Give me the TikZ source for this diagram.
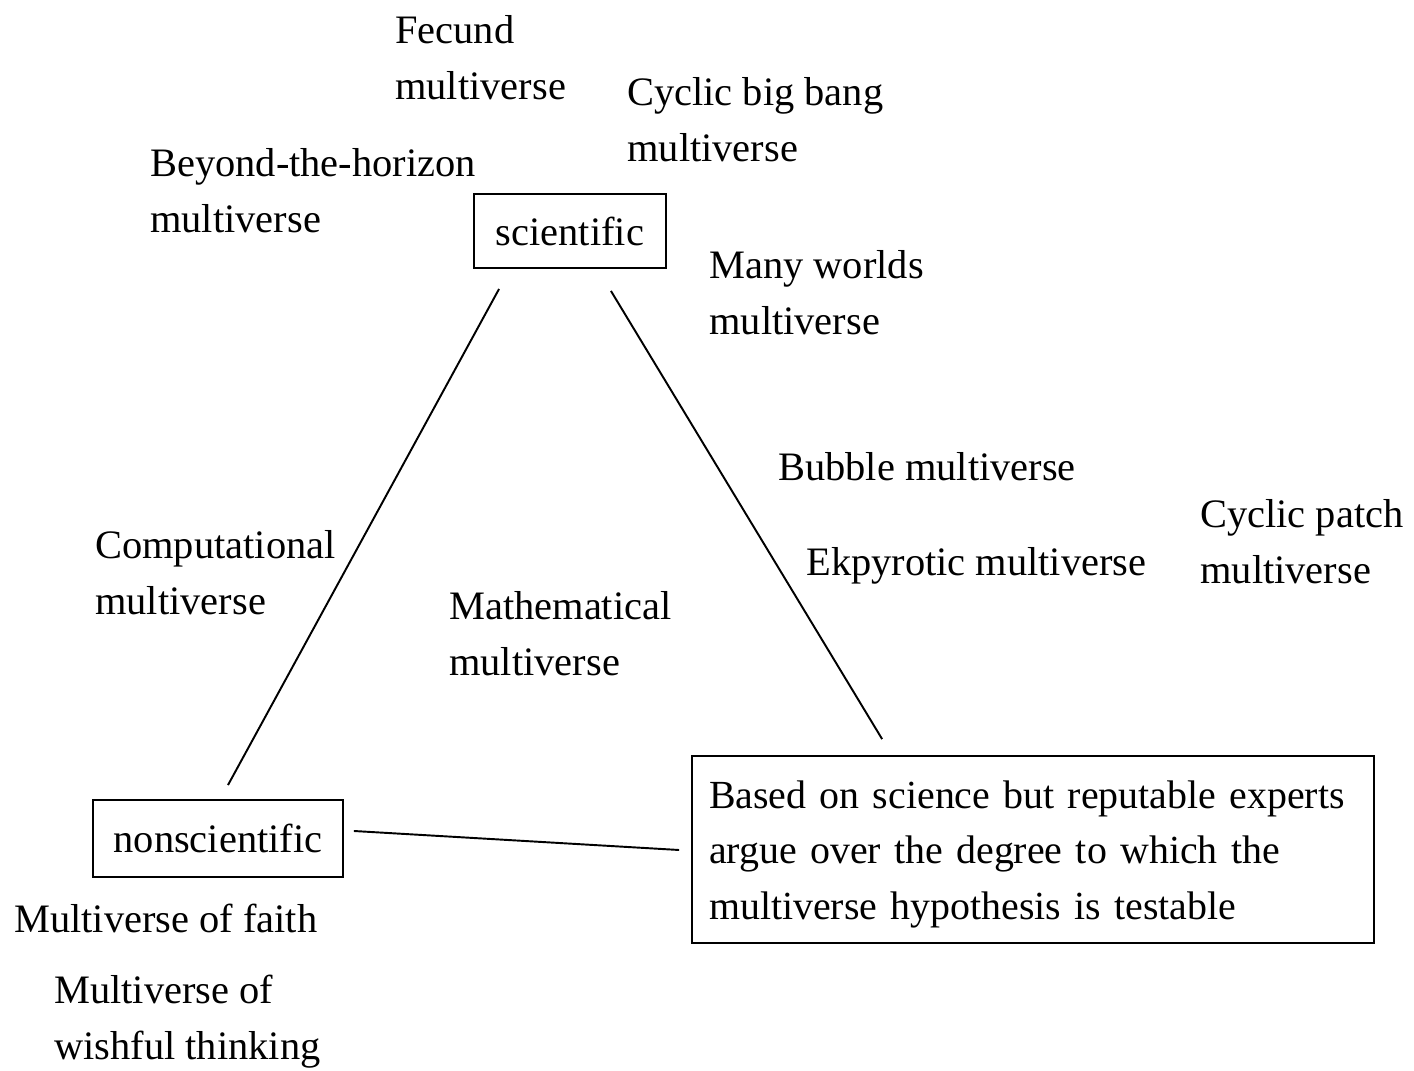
\documentclass[tikz,border=0pt]{standalone}
\usepackage{fontspec}
\setmainfont{Liberation Serif}

\begin{document}
\begin{tikzpicture}[x=0.02cm,y=-0.02cm,
    txt/.style={anchor=west,align=left,inner sep=0pt,font=\fontsize{23}{31.75}\selectfont},
    box/.style={draw,line width=1.1pt,inner sep=0pt,font=\fontsize{23}{31.75}\selectfont},
    link/.style={line width=1.1pt}]
  \useasboundingbox (0,0) rectangle (1414,1071);
  % the three corners
  \node[box, minimum width=3.84cm, minimum height=1.48cm] (sci) at (570,231) {scientific};
  \node[box, minimum width=5cm, minimum height=1.54cm] (nonsci) at (218,838.5) {nonscientific};
  \node[box, align=left, text width=12.96cm, inner xsep=0.34cm, minimum height=3.74cm,
    font=\fontsize{22.7}{31.75}\selectfont] (test) at (1033,849.5)
    {\rule{0pt}{21.3pt}Based on science but reputable experts\\argue over the degree to which the\\multiverse hypothesis is testable};
  \draw[link] ([shift={(26,20)}]sci.south west) -- ([shift={(10,-14)}]nonsci.north);
  \draw[link] ([shift={(-56,22)}]sci.south east) -- ([shift={(191,-16)}]test.north west);
  \draw[link] ([shift={(10,-7.5)}]nonsci.east) -- ([shift={(-12,0.5)}]test.west);
  % the multiverses
  \node[txt] (fecund) at (395,58) {Fecund\\multiverse};
  \node[txt] (bigbang) at (627,120) {Cyclic big bang\\multiverse};
  \node[txt] (horizon) at (150,191) {Beyond-the-horizon\\multiverse};
  \node[txt] (manyworlds) at (709,293) {Many worlds\\multiverse};
  \node[txt] (bubble) at (778,467) {Bubble multiverse};
  \node[txt] (patch) at (1200,542) {Cyclic patch\\multiverse};
  \node[txt] (ekpyrotic) at (806,566) {Ekpyrotic multiverse};
  \node[txt] (computational) at (95,573) {Computational\\multiverse};
  \node[txt] (mathematical) at (449,634) {Mathematical\\multiverse};
  \node[txt] (faith) at (14,918) {Multiverse of faith};
  \node[txt] (wishful) at (54,1022) {Multiverse of\\wishful thinking};
\end{tikzpicture}
\end{document}
